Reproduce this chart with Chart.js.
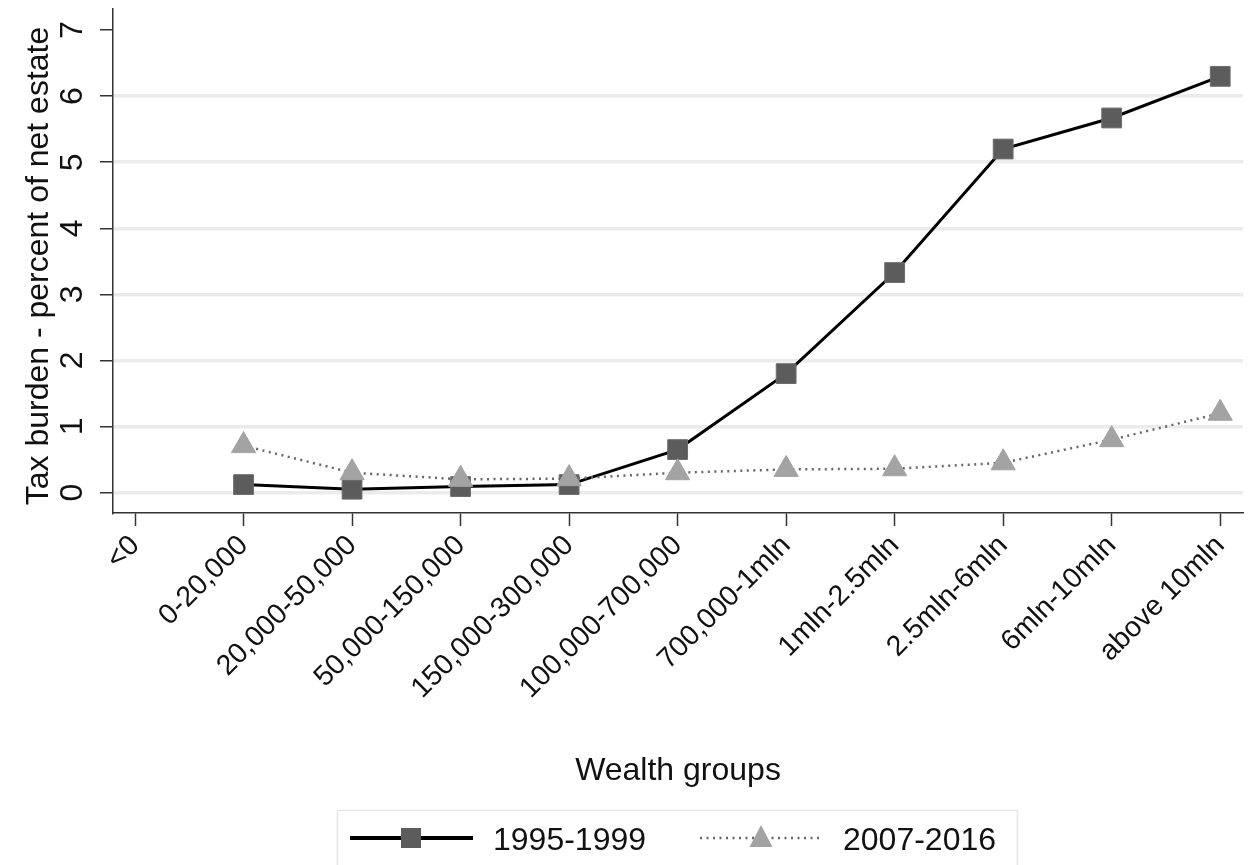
<!DOCTYPE html>
<html>
<head>
<meta charset="utf-8">
<script src="https://cdn.jsdelivr.net/npm/chart.js@4.4.1/dist/chart.umd.min.js"></script>
<style>
  html, body { margin: 0; padding: 0; background: #fff; }
  #wrap { width: 1255px; height: 865px; }
</style>
</head>
<body>
<div id="wrap"><canvas id="chart" width="1255" height="865"></canvas></div>
<script>
// wealth groups on the x axis
const categories = ['<0', '0-20,000', '20,000-50,000', '50,000-150,000', '150,000-300,000',
  '100,000-700,000', '700,000-1mln', '1mln-2.5mln', '2.5mln-6mln', '6mln-10mln', 'above 10mln'];
// tax burden, percent of net estate (no value for <0)
const tax1995 = [null, 0.12, 0.05, 0.09, 0.12, 0.65, 1.80, 3.33, 5.20, 5.67, 6.30];
const tax2007 = [null, 0.71, 0.30, 0.20, 0.21, 0.30, 0.35, 0.36, 0.45, 0.80, 1.20];
const yTicks = [0, 1, 2, 3, 4, 5, 6, 7];
const seriesNames = ['1995-1999', '2007-2016'];

const FONT = '"Liberation Sans", Arial, sans-serif';
const INK = '#111';
const AXIS = '#333';
const points = vals => vals.map((v, i) => ({ x: i, y: v }));

// titles, rotated y tick labels and the boxed legend, Stata style
const extras = {
  id: 'extras',
  afterDraw(chart) {
    const ctx = chart.ctx;
    const ys = chart.scales.y;
    const area = chart.chartArea;
    ctx.save();
    ctx.fillStyle = INK;

    ctx.font = '32px ' + FONT;
    ctx.textAlign = 'center';
    ctx.textBaseline = 'middle';
    yTicks.forEach(v => {
      ctx.save();
      ctx.translate(73.5, ys.getPixelForValue(v));
      ctx.rotate(-Math.PI / 2);
      ctx.fillText(String(v), 0, 0);
      ctx.restore();
    });

    ctx.save();
    ctx.translate(39, 266);
    ctx.rotate(-Math.PI / 2);
    ctx.fillText('Tax burden - percent of net estate', 0, 0);
    ctx.restore();

    ctx.textBaseline = 'alphabetic';
    ctx.fillText('Wealth groups', (area.left + area.right) / 2, 780);

    // legend box
    ctx.strokeStyle = '#e6e6e6';
    ctx.lineWidth = 1.5;
    ctx.strokeRect(337.5, 810.5, 680, 70);

    const ly = 838;
    ctx.strokeStyle = '#000';
    ctx.lineWidth = 4;
    ctx.beginPath(); ctx.moveTo(350, ly); ctx.lineTo(473, ly); ctx.stroke();
    ctx.fillStyle = '#5c5c5c';
    ctx.fillRect(401, ly - 10, 20, 20);

    ctx.strokeStyle = '#666';
    ctx.lineWidth = 2.5;
    ctx.setLineDash([2, 4.5]);
    ctx.beginPath(); ctx.moveTo(700, ly); ctx.lineTo(822, ly); ctx.stroke();
    ctx.setLineDash([]);
    ctx.fillStyle = '#a3a3a3';
    ctx.beginPath();
    ctx.moveTo(761, ly - 13); ctx.lineTo(772.5, ly + 9); ctx.lineTo(749.5, ly + 9);
    ctx.closePath(); ctx.fill();

    ctx.fillStyle = INK;
    ctx.textAlign = 'left';
    ctx.fillText(seriesNames[0], 493, 850);
    ctx.fillText(seriesNames[1], 843, 850);
    ctx.restore();
  }
};

new Chart(document.getElementById('chart'), {
  type: 'line',
  data: {
    datasets: [
      {
        label: seriesNames[0], data: points(tax1995), order: 2,
        borderColor: '#000', borderWidth: 3, tension: 0,
        pointStyle: 'rect', pointRadius: 14, pointHoverRadius: 14,
        pointBackgroundColor: '#5c5c5c', pointBorderColor: '#6e6e6e', pointBorderWidth: 1
      },
      {
        label: seriesNames[1], data: points(tax2007), order: 1,
        borderColor: '#666', borderWidth: 2.5, borderDash: [2, 4.5], tension: 0,
        pointStyle: 'triangle', pointRadius: 14, pointHoverRadius: 14,
        pointBackgroundColor: '#a3a3a3', pointBorderColor: '#a3a3a3', pointBorderWidth: 1
      }
    ]
  },
  options: {
    responsive: false,
    animation: false,
    events: [],
    layout: { autoPadding: false, padding: { top: 9, right: 12, left: 0, bottom: 0 } },
    plugins: { legend: { display: false }, tooltip: { enabled: false } },
    scales: {
      x: {
        type: 'linear', min: -0.203, max: 10.21,
        afterBuildTicks: s => { s.ticks = categories.map((c, i) => ({ value: i })); },
        afterFit: s => { s.height = 352; s.paddingLeft = 0; s.paddingRight = 0; },
        ticks: {
          autoSkip: false, minRotation: 45, maxRotation: 45, padding: 3,
          color: INK, font: { family: FONT, size: 28.5 },
          callback: v => categories[v] ?? ''
        },
        grid: { drawOnChartArea: false, drawTicks: true, tickLength: 13, tickColor: AXIS, tickWidth: 1.5 },
        border: { display: true, color: AXIS, width: 1.5 }
      },
      y: {
        min: -0.31, max: 7.32,
        afterBuildTicks: s => { s.ticks = yTicks.map(v => ({ value: v })); },
        afterFit: s => { s.width = 113; s.paddingTop = 0; s.paddingBottom = 0; },
        ticks: { display: false },
        grid: {
          color: c => (c.tick && c.tick.value === 7) ? 'rgba(0,0,0,0)' : '#ebebeb',
          lineWidth: 3.5, drawTicks: true, tickLength: 13, tickColor: AXIS, tickWidth: 1.5
        },
        border: { display: true, color: AXIS, width: 1.5 }
      }
    }
  },
  plugins: [extras]
});
</script>
</body>
</html>
